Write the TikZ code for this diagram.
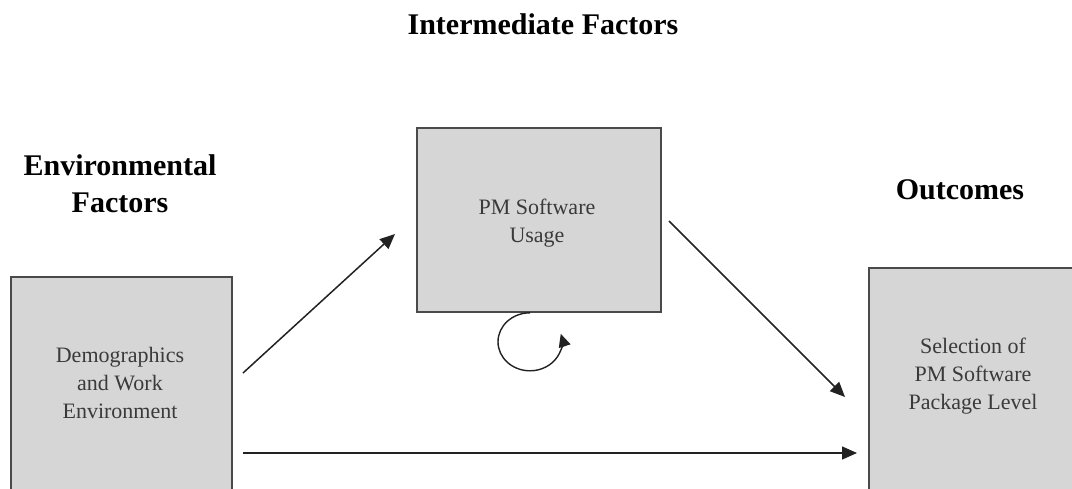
\documentclass[tikz,border=0pt]{standalone}
\usepackage{fontspec}
\setmainfont{Liberation Serif}
\usetikzlibrary{arrows.meta}
\definecolor{boxfill}{HTML}{D6D6D6}
\definecolor{boxedge}{HTML}{4A4A4A}
\definecolor{boxink}{HTML}{3A3A3A}
\definecolor{lineink}{HTML}{222222}
\tikzset{
  factorbox/.style={draw=boxedge, fill=boxfill, line width=1.6pt, inner sep=0pt},
  boxlabel/.style={text=boxink, align=center, inner sep=0pt,
    font={\fontsize{22}{28}\selectfont}},
  heading/.style={align=center, inner sep=0pt,
    font={\fontsize{30}{37}\selectfont\bfseries}},
  flow/.style={draw=lineink, line width=1.5pt,
    -{Triangle[length=15pt,width=13pt]}},
}
\begin{document}
\begin{tikzpicture}[x=1pt, y=-1pt]
\useasboundingbox (0,0) rectangle (1072,488);
\clip (0,0) rectangle (1072,488);

% headings
\node[heading, anchor=base] (hmid) at (543,34) {Intermediate Factors};
\node[heading] (henv) at (120,184) {Environmental\\Factors};
\node[heading, anchor=base] (hout) at (960,199) {Outcomes};

% boxes
\node[factorbox, minimum width=221pt, minimum height=224pt] (env) at (121.5,389) {};
\node[factorbox, minimum width=244pt, minimum height=184pt] (usage) at (539,220) {};
\node[factorbox, minimum width=216pt, minimum height=232pt] (sel) at (977,384) {};

% box texts
\node[boxlabel] (envtext) at (120,383) {Demographics\\and Work\\Environment};
\node[boxlabel] (usagetext) at (537,223) {PM Software\\Usage};
\node[boxlabel] (seltext) at (973,376.5) {Selection of\\PM Software\\Package Level};

% connector ends
\coordinate (a1s) at (243,373);
\coordinate (a1e) at (395,234);
\coordinate (a2s) at (669,221);
\coordinate (a2e) at (845,397);
\coordinate (a3s) at (243,453);
\coordinate (a3e) at (857,453);

\draw[flow] (a1s) -- (a1e);
\draw[flow] (a2s) -- (a2e);
\draw[flow] (a3s) -- (a3e);

% feedback loop under the usage box
\draw[flow, line width=1.4pt, -{Triangle[length=13pt,width=12pt]}]
  ([xshift=-9pt]usage.south) arc[start angle=90, end angle=376, x radius=32pt, y radius=29pt];
\end{tikzpicture}
\end{document}
